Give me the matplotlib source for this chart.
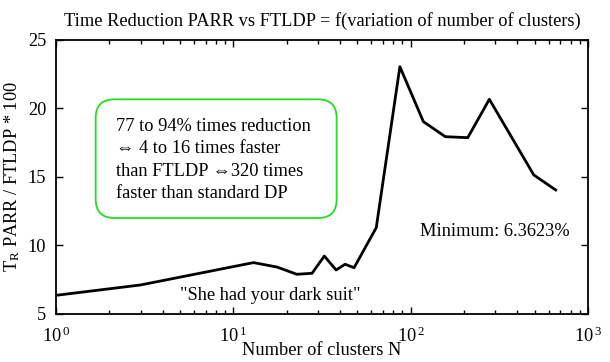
"""Time reduction of PARR vs FTLDP against number of clusters."""

import matplotlib

matplotlib.use("Agg")

import matplotlib.pyplot as plt  # noqa: E402
from matplotlib.patches import FancyBboxPatch  # noqa: E402
from matplotlib.ticker import FixedLocator, LogLocator, NullFormatter  # noqa: E402

plt.rcParams["font.family"] = ["Liberation Serif", "DejaVu Serif"]
plt.rcParams["mathtext.fontset"] = "custom"
plt.rcParams["mathtext.rm"] = "Liberation Serif"
plt.rcParams["mathtext.it"] = "Liberation Serif:italic"

clusters = [1, 3, 13, 17.6, 22.8, 27.8, 32.6, 38, 42.7, 48, 64, 87, 118, 157, 210, 278, 495, 658]
time_ratio = [6.3623, 7.12, 8.75, 8.43, 7.9, 7.97, 9.23, 8.21, 8.63, 8.38, 11.3, 23.05, 19.04,
              17.94, 17.87, 20.67, 15.15, 14.05]

x_ticks = [1, 10, 100, 1000]
x_tick_labels = ["$10^{\\,0}$", "$10^{\\,1}$", "$10^{\\,2}$", "$10^{\\,3}$"]
y_ticks = [5, 10, 15, 20, 25]

box_text = ("77 to 94% times reduction\n"
            "\u21d4 4 to 16 times faster\n"
            "than FTLDP \u21d4320 times\n"
            "faster than standard DP")

FS = 13.2

figure = plt.figure(figsize=(6.1, 3.62), dpi=100)
axis = figure.add_axes([0.0918, 0.1326, 0.872, 0.757])

axis.plot(clusters, time_ratio, color="black", linewidth=2.0)
axis.set_xscale("log")
axis.set_xlim(1, 1000)
axis.set_ylim(5, 25)

axis.xaxis.set_major_locator(FixedLocator(x_ticks))
axis.set_xticklabels(x_tick_labels, fontsize=FS)
axis.xaxis.set_minor_locator(LogLocator(base=10, subs=range(2, 10)))
axis.xaxis.set_minor_formatter(NullFormatter())
axis.set_yticks(y_ticks)
axis.set_yticklabels([str(v) for v in y_ticks], fontsize=FS)
axis.tick_params(which="both", direction="in", top=True, right=True, width=1.0)
axis.tick_params(which="major", length=5)
axis.tick_params(which="minor", length=3)
axis.tick_params(axis="x", pad=9)
axis.tick_params(axis="y", pad=7)
for spine in axis.spines.values():
    spine.set_linewidth(1.3)

axis.set_title("Time Reduction PARR vs FTLDP = f(variation of number of clusters)",
               fontsize=FS, pad=10)
axis.set_xlabel("Number of clusters N", fontsize=FS, labelpad=-3)
axis.set_ylabel("T$_{\\mathrm{R}}$ PARR / FTLDP * 100", fontsize=FS, labelpad=4)

box = FancyBboxPatch((0.0746, 0.3504), 0.453, 0.433,
                     boxstyle="round,pad=0,rounding_size=0.035",
                     transform=axis.transAxes, facecolor="white", edgecolor="#22dd22",
                     linewidth=1.3, mutation_aspect=1.94)
axis.add_patch(box)
axis.text(0.1122, 0.562, box_text, transform=axis.transAxes, fontsize=FS,
          va="center", ha="left", linespacing=1.42)
axis.text(0.966, 0.30, "Minimum: 6.3623%", transform=axis.transAxes, fontsize=FS,
          va="center", ha="right")
axis.text(0.4036, 0.069, "\"She had your dark suit\"", transform=axis.transAxes, fontsize=FS,
          va="center", ha="center")

figure.savefig("out.png", dpi=100)
plt.close(figure)
